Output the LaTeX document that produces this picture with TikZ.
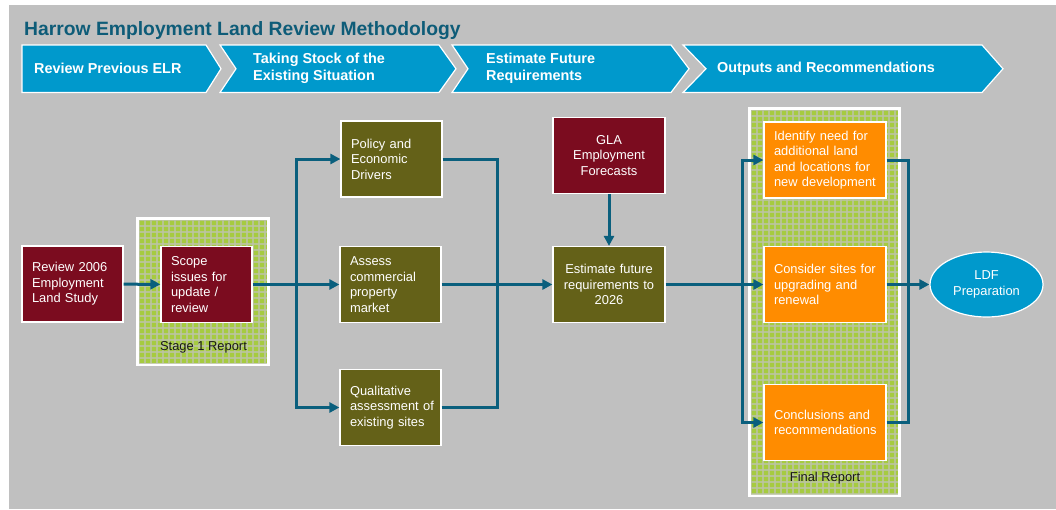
\documentclass[tikz,border=0pt]{standalone}
\usepackage{fontspec}
\setmainfont{Liberation Sans}
\usetikzlibrary{arrows.meta,shapes.geometric}
\definecolor{bgrey}{HTML}{C0C0C0}
\definecolor{chev}{HTML}{0099CC}
\definecolor{wine}{HTML}{7B0C1F}
\definecolor{olive}{HTML}{646118}
\definecolor{amber}{HTML}{FF8C00}
\definecolor{flow}{HTML}{0A5F7D}
\definecolor{titleteal}{HTML}{0E5C78}
\definecolor{leaf}{HTML}{A6CB40}
\definecolor{leafline}{HTML}{BCC4A4}
\begin{document}
\begin{tikzpicture}[x=1pt,y=-1pt,
  blk/.style={draw=white, line width=1.2pt, inner xsep=10pt, inner ysep=2pt,
    minimum height=76pt, text=white, font=\fontsize{12.9}{15.5}\selectfont},
  redbox/.style={blk, fill=wine},
  olivebox/.style={blk, fill=olive},
  orangebox/.style={blk, fill=amber},
  chevshape/.style={fill=chev, draw=white, line width=1.2pt, line join=miter},
  chevtext/.style={anchor=west, inner sep=0pt, text=white, align=left,
    font=\bfseries\fontsize{14.4}{17}\selectfont},
  caption/.style={inner sep=0pt, text=black!90, font=\fontsize{12.9}{15.5}\selectfont},
  line/.style={draw=flow, line width=3pt},
  conn/.style={line, -{Triangle[length=10pt,width=10pt]}},
]
\useasboundingbox (0,0) rectangle (1056,509);
\fill[white] (0,0) rectangle (1056,509);
\fill[bgrey] (9,5) rectangle (1056,509);

% heading
\node[anchor=base west, inner sep=0pt, text=titleteal,
  font=\bfseries\fontsize{19.3}{22}\selectfont] (title) at (24,35)
  {Harrow Employment Land Review Methodology};

% phase chevrons
\path[chevshape] (22,45) -- (206,45) -- (221,68.75) -- (206,92.5) -- (22,92.5) -- cycle;
\path[chevshape] (220,45) -- (439,45) -- (456,68.75) -- (439,92.5) -- (220,92.5) -- (236,68.75) -- cycle;
\path[chevshape] (452,45) -- (671,45) -- (689,68.75) -- (671,92.5) -- (452,92.5) -- (468,68.75) -- cycle;
\path[chevshape] (683,45) -- (982,45) -- (1003,68.75) -- (982,92.5) -- (683,92.5) -- (706,68.75) -- cycle;
\node[chevtext] (ph1) at (34,68.75) {Review Previous ELR};
\node[chevtext] (ph2) at (253,68.75) {Taking Stock of the\\Existing Situation};
\node[chevtext] (ph3) at (486,68.75) {Estimate Future\\Requirements};
\node[chevtext] (ph4) at (717,68.75) {Outputs and Recommendations};

% report frames with chequered green fill
\fill[white] (136,217) rectangle (270,366);
\fill[white] (748,107) rectangle (901,497);
\foreach \xa/\ya/\xb/\yb in {139/220/267/363, 751/110/898/494}{
  \begin{scope}
    \clip (\xa,\ya) rectangle (\xb,\yb);
    \fill[leaf] (\xa,\ya) rectangle (\xb,\yb);
    \foreach \k in {0,6,...,400}{
      \draw[leafline, line width=1.6pt, opacity=0.8] (\xa+\k,\ya) -- (\xa+\k,\yb);
      \draw[leafline, line width=1.6pt, opacity=0.8] (\xa,\ya+\k) -- (\xb,\ya+\k);
    }
  \end{scope}
}
\node[caption] (stage1) at (203.5,347) {Stage 1 Report};
\node[caption] (final) at (825,478) {Final Report};

% process boxes
\node[redbox, text width=81pt, align=left] (rev06) at (72.5,284)
  {Review 2006\\Employment\\Land Study};
\node[redbox, text width=71pt, align=left] (scope) at (206.5,284.5)
  {Scope\\issues for\\update /\\review};
\node[olivebox, text width=81pt, align=left] (policy) at (391.5,159)
  {Policy and\\Economic\\Drivers};
\node[olivebox, text width=81pt, align=left] (assess) at (390.5,284.5)
  {Assess\\commercial\\property\\market};
\node[olivebox, text width=81pt, align=left] (qual) at (390.5,407.5)
  {Qualitative\\assessment~of\\existing sites};
\node[redbox, text width=92pt, align=center] (gla) at (609,155.5)
  {GLA\\Employment\\Forecasts};
\node[olivebox, text width=92pt, align=center] (est) at (609,284.5)
  {Estimate future\\requirements~to\\2026};
\node[orangebox, text width=102pt, align=left] (ident) at (825,160)
  {Identify need for\\additional land\\and locations for\\new~development};
\node[orangebox, text width=102pt, align=left] (cons) at (825,284.5)
  {Consider sites~for\\upgrading and\\renewal};
\node[orangebox, text width=102pt, align=left] (concl) at (825,422.5)
  {Conclusions and\\recommendations};
\node[ellipse, fill=chev, draw=white, line width=1.2pt, minimum width=113pt,
  minimum height=65pt, inner sep=0pt, text=white, align=center,
  font=\fontsize{12.9}{16}\selectfont] (ldf) at (986.5,284.5) {LDF\\Preparation};

% flow junctions
\coordinate (ja) at (296,284.5);
\coordinate (jb) at (497,284.5);
\coordinate (jc) at (742,284.5);
\coordinate (jd) at (908,284.5);

% connectors
\draw[conn] (rev06) -- (scope);
\draw[conn] (scope) -- (assess);
\draw[conn] (ja) |- (policy.west);
\draw[conn] (ja) |- (qual.west);
\draw[line] (policy.east) -| (jb);
\draw[line] (qual.east) -| (jb);
\draw[conn] (assess) -- (est);
\draw[conn] (gla) -- (est);
\draw[conn] (est) -- (cons);
\draw[conn] (jc) |- (ident.west);
\draw[conn] (jc) |- (concl.west);
\draw[line] (ident.east) -| (jd);
\draw[line] (concl.east) -| (jd);
\draw[conn] (cons) -- (ldf);
\end{tikzpicture}
\end{document}
